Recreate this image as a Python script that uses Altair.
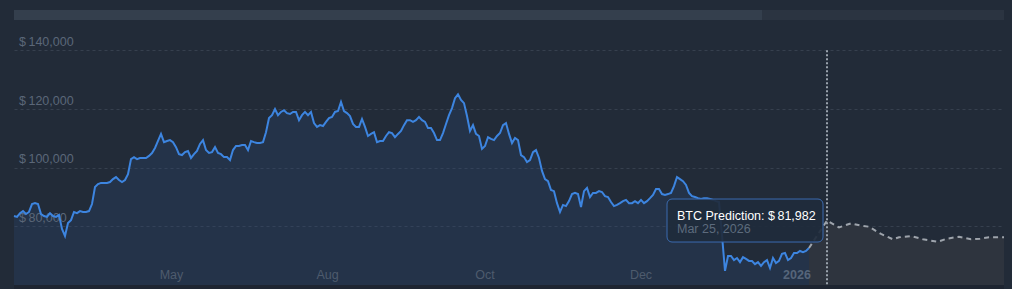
import altair as alt
import pandas as pd

# Historical BTC price, evenly spaced samples (index 0..265)
hist_prices = [
    83500, 83200, 84500, 85200, 84200, 84900, 87600, 87900, 87600, 84200,
    83500, 83200, 84500, 83500, 83200, 83900, 79100, 76700, 81100, 82100,
    84900, 84500, 85200, 84900, 84900, 85200, 87600, 93400, 94400, 94800,
    94800, 94800, 95100, 96100, 96800, 95800, 95100, 95800, 97800, 102900,
    103600, 102900, 103300, 103300, 103300, 104000, 105000, 106700, 109100, 111500,
    108700, 109100, 109400, 108700, 107000, 104600, 104300, 105300, 105700, 103300,
    104600, 105700, 108100, 109400, 106000, 105000, 105300, 107000, 105000, 104600,
    103600, 103600, 102600, 106000, 107400, 107400, 107700, 107700, 106000, 109100,
    108700, 108400, 108400, 108700, 112100, 116900, 117900, 120000, 117900, 119000,
    119600, 118600, 118300, 119000, 119000, 116200, 117900, 119000, 117900, 119000,
    115200, 113900, 114500, 114200, 115600, 116900, 117300, 119000, 119300, 122400,
    119300, 118600, 117600, 114900, 113900, 113900, 116600, 113900, 110800, 111500,
    112100, 108700, 109100, 109100, 110800, 112100, 111800, 110400, 111500, 112500,
    114500, 116200, 116200, 115600, 116200, 117300, 116200, 115600, 113500, 113500,
    111800, 109400, 109400, 111800, 114900, 117900, 120300, 123700, 125000, 123100,
    122000, 117600, 112500, 114500, 111500, 110800, 106400, 107400, 110400, 109800,
    109400, 110800, 111800, 114500, 115200, 111500, 108400, 110100, 109400, 104300,
    103600, 101900, 102600, 105300, 106000, 103300, 98900, 96100, 95400, 92400,
    92000, 87900, 84900, 87300, 86900, 88600, 91000, 91400, 91000, 86600,
    92000, 93100, 90000, 91400, 91400, 92000, 91700, 90300, 90000, 88300,
    86900, 87300, 87900, 88600, 89000, 87900, 87900, 88600, 87900, 89000,
    87900, 88600, 89600, 90700, 92700, 92700, 91000, 90700, 91000, 91400,
    93700, 96800, 96100, 95400, 94100, 91400, 90300, 90000, 89600, 89300,
    89600, 89600, 89300, 89000, 88600, 88300, 77000, 64800, 69900, 69900,
    68500, 69200, 67800, 69500, 68900, 68200, 68200, 67100, 67800, 66500,
    67800, 68500, 65800, 69200, 67500, 68200, 70600, 70900, 68500, 69200,
    70900, 70900, 71600, 71200, 71600, 72600,
]

# Prediction series
pred_index = [265, 271, 275, 279, 282, 285, 289, 293, 295, 299, 303, 308, 311, 315, 319, 322, 325, 330]
pred_prices = [72600, 81982, 79650, 81000, 80300, 79870, 77400, 75570, 76250, 76700,
               75570, 74750, 75800, 76460, 75570, 75800, 76250, 76250]

# Axis ticks
y_ticks = [80000, 100000, 120000, 140000]
month_labels = ["May", "Aug", "Oct", "Dec", "2026"]
month_pos = [52.5, 104.5, 157, 209, 261]
month_bold = [False, False, False, False, True]

# Hovered prediction point
hover_index = 271
hover_price = 81982
hover_date = "Mar 25, 2026"

X_DOMAIN = [0, 330]
Y_DOMAIN = [60000, 150000]
FONT = "Liberation Sans"

df_hist = pd.DataFrame({"i": list(range(len(hist_prices))), "price": hist_prices})
df_pred = pd.DataFrame({"i": pred_index, "price": pred_prices})
df_yt = pd.DataFrame({"price": y_ticks, "label": [f"$\u2009{v:,}" for v in y_ticks]})
df_xt = pd.DataFrame({"i": month_pos, "label": month_labels, "bold": month_bold})
df_hover = pd.DataFrame({
    "i": [hover_index], "price": [hover_price],
    "title": [f"BTC Prediction: $\u2009{hover_price:,}"], "date": [hover_date],
})
df_one = pd.DataFrame({"k": [0]})

xs = alt.Scale(domain=X_DOMAIN, nice=False, zero=False)
ys = alt.Scale(domain=Y_DOMAIN, nice=False, zero=False)
X = alt.X("i:Q", scale=xs, axis=None)

grid_axis = alt.Axis(values=y_ticks, grid=True, gridColor="#36404e", gridDash=[3, 3],
                     gridWidth=1, labels=False, ticks=False, domain=False, title=None)

hist_area = alt.Chart(df_hist).mark_area(color="#2c4a7a", opacity=0.27).encode(
    x=X, y=alt.Y("price:Q", scale=ys, axis=grid_axis), y2=alt.datum(Y_DOMAIN[0]))

pred_area = alt.Chart(df_pred).mark_area(color="#2e343e").encode(
    x=X, y=alt.Y("price:Q", scale=ys), y2=alt.datum(Y_DOMAIN[0]))

bottom_strip = alt.Chart(df_one).mark_rect(color="#1e2531").encode(
    x=alt.value(0), x2=alt.value(990), y=alt.value(264), y2=alt.value(268))

top_bar_bg = alt.Chart(df_one).mark_rect(color="#2b3441").encode(
    x=alt.value(0), x2=alt.value(990), y=alt.value(-11), y2=alt.value(-1))
top_bar_fg = alt.Chart(df_one).mark_rect(color="#343f4d").encode(
    x=alt.value(0), x2=alt.value(748), y=alt.value(-11), y2=alt.value(-1))

y_labels = alt.Chart(df_yt).mark_text(align="left", baseline="alphabetic", dx=0, dy=-4.5,
                                      font=FONT, fontSize=12.5, color="#5b6778").encode(
    x=alt.value(5), y=alt.Y("price:Q", scale=ys), text="label:N")

x_labels = alt.Chart(df_xt).transform_filter("!datum.bold").mark_text(
    align="center", baseline="alphabetic", font=FONT, fontSize=12.5, color="#4e5b6d").encode(
    x=X, y=alt.value(258), text="label:N")
x_labels_bold = alt.Chart(df_xt).transform_filter("datum.bold").mark_text(
    align="center", baseline="alphabetic", font=FONT, fontSize=12.5, fontWeight="bold",
    color="#56657a").encode(x=X, y=alt.value(258), text="label:N")

hist_line = alt.Chart(df_hist).mark_line(color="#3d85e0", strokeWidth=2).encode(
    x=X, y=alt.Y("price:Q", scale=ys))

pred_line = alt.Chart(df_pred).mark_line(color="#9ea4ac", strokeWidth=2, strokeDash=[5, 4]).encode(
    x=X, y=alt.Y("price:Q", scale=ys))

rule = alt.Chart(df_hover).mark_rule(color="#9aa3ad", strokeWidth=2, strokeDash=[2, 2]).encode(
    x=X, y=alt.datum(y_ticks[-1]), y2=alt.datum(Y_DOMAIN[0]))

tip_box = alt.Chart(df_hover).mark_rect(width=156, height=43, xOffset=-82, cornerRadius=5,
                                        fill="#1f2b3c", fillOpacity=0.92, stroke="#3b6bb0",
                                        strokeWidth=1).encode(
    x=X, y=alt.Y("price:Q", scale=ys))
tip_title = alt.Chart(df_hover).mark_text(align="left", baseline="alphabetic", dx=-150, dy=-1,
                                          font=FONT, fontSize=12.5, color="#ffffff").encode(
    x=X, y=alt.Y("price:Q", scale=ys), text="title:N")
tip_date = alt.Chart(df_hover).mark_text(align="left", baseline="alphabetic", dx=-150, dy=12,
                                         font=FONT, fontSize=12.5, color="#5d6b7d").encode(
    x=X, y=alt.Y("price:Q", scale=ys), text="date:N")

chart = alt.layer(
    hist_area, pred_area, bottom_strip, top_bar_bg, top_bar_fg,
    y_labels, x_labels, x_labels_bold,
    hist_line, pred_line, rule, tip_box, tip_title, tip_date,
).properties(
    width=990, height=264,
    padding={"left": 14, "top": 21, "right": 8, "bottom": 4},
    autosize=alt.AutoSizeParams(type="none"),
    background="#222b38",
).configure_view(stroke=None)

chart.save("out.html", embed_options={"renderer": "svg", "actions": False})
